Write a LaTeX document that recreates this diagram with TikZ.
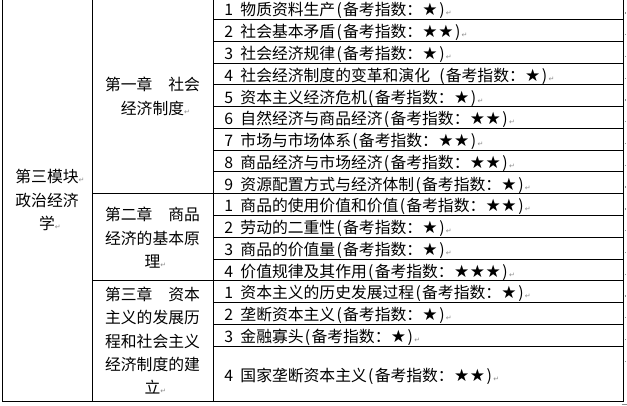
\documentclass[tikz,border=0pt]{standalone}
\usepackage{fontspec}
\setmainfont{Noto Sans CJK SC}
\newfontfamily\symfont{DejaVu Sans}
\definecolor{pmgray}{gray}{0.55}
\newcommand\hw[1]{\makebox[0.5em]{#1}}
\newcommand\pmk{{\symfont\fontsize{7}{7}\selectfont\textcolor{pmgray}{↵}}}
\newcommand\st{\makebox[1em]{\symfont\fontsize{17}{17}\selectfont ★}}
\newcommand\itemtext[3]{\hw{#1}\hw{}#2\hw{(}备考指数：#3\hw{)}\pmk}
\begin{document}
\begin{tikzpicture}[x=1pt,y=-1pt,
  tbl/.style={line width=0.9pt, black},
  cell/.style={anchor=base west, inner sep=0pt, font=\fontsize{15.8}{23.3}\selectfont},
  head/.style={align=center, inner sep=0pt, anchor=center, font=\fontsize{15.8}{23.3}\selectfont},
  tick/.style={fill=pmgray}]
\useasboundingbox (0,0) rectangle (627,405);
\begin{scope}
\clip (0,0) rectangle (627,405);
% frame and column rules
\draw[tbl] (2.5,-2.3) rectangle (623.5,401.7);
\draw[tbl] (92,-2.3) -- (92,401.7);
\draw[tbl] (213,-2.3) -- (213,401.7);
% row rules in the third column
\foreach \y in {19.5,41.27,63.04,84.81,106.58,128.35,150.12,171.89,215.43,237.2,258.97,302.51,324.28,346.05}
  \draw[tbl] (213,\y) -- (623.5,\y);
% chapter rules
\draw[tbl] (92,193.66) -- (623.5,193.66);
\draw[tbl] (92,280.74) -- (623.5,280.74);
% end-of-row marks
\foreach \y in {12.2,34,55.8,77.5,99.3,121.1,142.9,164.6,186.4,208.2,229.9,251.7,273.5,295.2,317,338.8,360.6}
  \fill[tick] (625,\y) rectangle (626.3,\y+1.3);
\draw[pmgray, line width=0.8pt] (621.5,404.2) -- (627,404.2);
\end{scope}

% module column
\node[head] (mod) at (47,200) {第三模块\rlap{\pmk}\\政治经济\\学\rlap{\pmk}};
% chapter column
\node[head] (ch1) at (152.5,96.5) {第一章　社会\\经济制度\rlap{\pmk}};
\node[head] (ch2) at (152.5,237.7) {第二章　商品\\经济的基本原\\理\rlap{\pmk}};
\node[head] (ch3) at (152.5,340.6) {第三章　资本\\主义的发展历\\程和社会主义\\经济制度的建\\立\rlap{\pmk}};

% items
\node[cell] (a1) at (224.5,15.9) {\itemtext{1}{物质资料生产}{\st}};
\node[cell] (a2) at (224.5,37.7) {\itemtext{2}{社会基本矛盾}{\st\st}};
\node[cell] (a3) at (224.5,59.5) {\itemtext{3}{社会经济规律}{\st}};
\node[cell] (a4) at (224.5,81.2) {\itemtext{4}{社会经济制度的变革和演化\hw{}}{\st}};
\node[cell] (a5) at (224.5,103.0) {\itemtext{5}{资本主义经济危机}{\st}};
\node[cell] (a6) at (224.5,124.8) {\itemtext{6}{自然经济与商品经济}{\st\st}};
\node[cell] (a7) at (224.5,146.5) {\itemtext{7}{市场与市场体系}{\st\st}};
\node[cell] (a8) at (224.5,168.3) {\itemtext{8}{商品经济与市场经济}{\st\st}};
\node[cell] (a9) at (224.5,190.1) {\itemtext{9}{资源配置方式与经济体制}{\st}};
\node[cell] (b1) at (224.5,211.8) {\itemtext{1}{商品的使用价值和价值}{\st\st}};
\node[cell] (b2) at (224.5,233.6) {\itemtext{2}{劳动的二重性}{\st}};
\node[cell] (b3) at (224.5,255.4) {\itemtext{3}{商品的价值量}{\st}};
\node[cell] (b4) at (224.5,277.2) {\itemtext{4}{价值规律及其作用}{\st\st\st}};
\node[cell] (c1) at (224.5,298.9) {\itemtext{1}{资本主义的历史发展过程}{\st}};
\node[cell] (c2) at (224.5,320.7) {\itemtext{2}{垄断资本主义}{\st}};
\node[cell] (c3) at (224.5,342.5) {\itemtext{3}{金融寡头}{\st}};
\node[cell] (c4) at (224.5,381.2) {\itemtext{4}{国家垄断资本主义}{\st\st}};
\end{tikzpicture}
\end{document}
